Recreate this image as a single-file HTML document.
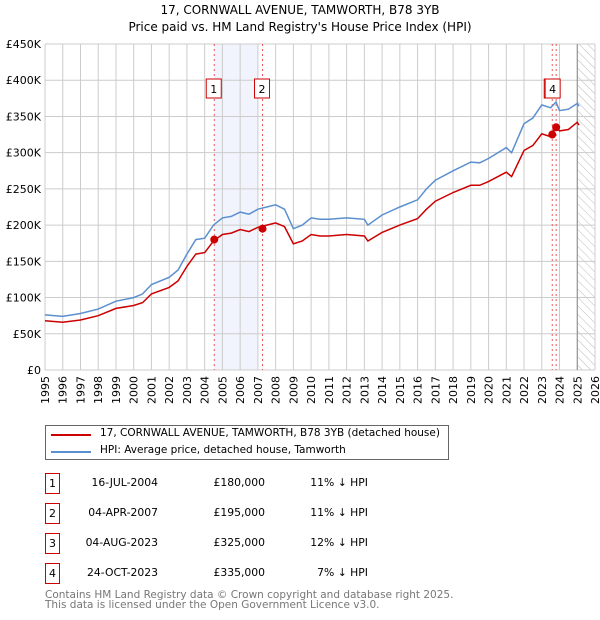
<!DOCTYPE html>
<html><head><meta charset="utf-8">
<style>
body{margin:0;width:600px;height:620px;background:#fff;font-family:"DejaVu Sans","Liberation Sans",sans-serif;overflow:hidden;position:relative}
.t{position:absolute;white-space:nowrap}
.box{position:absolute;border:1px solid #c00;font-size:11px;text-align:center;line-height:19px;box-sizing:border-box;width:15px;height:21px}
.row{font-size:10.8px;color:#000}
</style></head><body>
<div class="t" style="left:0;width:600px;text-align:center;top:2px;font-size:12px;line-height:17px">17, CORNWALL AVENUE, TAMWORTH, B78 3YB<br>Price paid vs. HM Land Registry's House Price Index (HPI)</div>
<svg id="chart" width="600" height="420" style="position:absolute;left:0;top:0" font-family="DejaVu Sans, Liberation Sans, sans-serif" font-size="11">
<defs><pattern id="hatch" width="6" height="6" patternUnits="userSpaceOnUse" patternTransform="rotate(-45)"><line x1="0" y1="0" x2="0" y2="6" stroke="#bbb" stroke-width="1"/></pattern></defs>
<g id="grid"></g><g id="marks"></g><g id="axes"></g>
</svg>
<div style="position:absolute;left:45px;top:425px;width:404px;height:35px;border:1px solid #666;box-sizing:border-box">
<div style="position:absolute;left:5px;top:8px;width:40px;height:2px;background:#c00"></div>
<div class="t" style="left:54px;top:1px;font-size:10.5px">17, CORNWALL AVENUE, TAMWORTH, B78 3YB (detached house)</div>
<div style="position:absolute;left:5px;top:25px;width:40px;height:2px;background:#5b8fd0"></div>
<div class="t" style="left:54px;top:18px;font-size:10.5px">HPI: Average price, detached house, Tamworth</div>
</div>
<div id="table"></div>
<div class="t" style="left:45px;top:590px;font-size:10.5px;color:#777;line-height:10px">Contains HM Land Registry data © Crown copyright and database right 2025.<br>This data is licensed under the Open Government Licence v3.0.</div>
<script>
const hpiYears=[1995,1996,1997,1998,1999,2000,2000.5,2001,2002,2002.5,2003,2003.5,2004,2004.5,2005,2005.5,2006,2006.5,2007,2007.5,2008,2008.5,2009,2009.5,2010,2010.5,2011,2012,2013,2013.2,2014,2015,2016,2016.5,2017,2018,2019,2019.5,2020,2021,2021.3,2022,2022.5,2023,2023.5,2023.8,2024,2024.5,2025,2025.1];
const hpiValues=[76000,74000,78000,84000,95000,100000,105000,118000,128000,138000,160000,180000,182000,200000,210000,212000,218000,215000,222000,225000,228000,222000,195000,200000,210000,208000,208000,210000,208000,200000,214000,225000,235000,250000,262000,275000,287000,286000,292000,307000,300000,340000,348000,366000,362000,370000,358000,360000,368000,364000];
const priceValues=[68000,66000,69000,75000,85000,89000,93000,105000,114000,123000,143000,160000,162000,178000,187000,189000,194000,191000,197000,200000,203000,198000,174000,178000,187000,185000,185000,187000,185000,178000,190000,200000,209000,222000,233000,245000,255000,255000,260000,273000,267000,303000,310000,326000,322000,336000,330000,332000,342000,338000];
const saleYears=[2004.54,2007.26,2023.59,2023.81];
const salePrices=[180000,195000,325000,335000];
const saleLabels=["1","2","3","4"];
const saleDates=["16-JUL-2004","04-APR-2007","04-AUG-2023","24-OCT-2023"];
const salePriceText=["£180,000","£195,000","£325,000","£335,000"];
const saleDiff=["11% ↓ HPI","11% ↓ HPI","12% ↓ HPI","7% ↓ HPI"];
const yTicks=[0,50000,100000,150000,200000,250000,300000,350000,400000,450000];
const yTickLabels=["£0","£50K","£100K","£150K","£200K","£250K","£300K","£350K","£400K","£450K"];
const xMin=1995,xMax=2026,X0=45,X1=595,Y0=370,Y1=44;
const xs=v=>X0+(v-xMin)/(xMax-xMin)*(X1-X0);
const ys=v=>Y0-(v/450000)*(Y0-Y1);
const NS="http://www.w3.org/2000/svg";
function mk(par,tag,attrs){const e=document.createElementNS(NS,tag);for(const k in attrs)e.setAttribute(k,attrs[k]);document.getElementById(par).appendChild(e);return e;}
let r=mk('grid','rect',{x:xs(2004.54),y:Y1,width:xs(2007.0)-xs(2004.54),height:Y0-Y1,fill:'#f1f4fc'});


r=mk('grid','rect',{x:xs(2025.0),y:Y1,width:X1-xs(2025.0),height:Y0-Y1,fill:'url(#hatch)'});


for(let i=0;i<yTicks.length;i++){
 let l=mk('grid','line',{x1:X0,x2:X1,y1:ys(yTicks[i]),y2:ys(yTicks[i]),stroke:'#ccc'});
 
 
 let t=mk('axes','text',{x:X0-4,y:ys(yTicks[i])+4,'text-anchor':'end',fill:'#000'});
 t.textContent=yTickLabels[i];
 
 
}
for(let yr=1995;yr<=2026;yr++){
 let l=mk('grid','line',{x1:xs(yr),x2:xs(yr),y1:Y1,y2:Y0,stroke:'#ccc'});
 
 
 let t=mk('axes','text',{transform:`translate(${xs(yr)+4},${Y0+6}) rotate(-90)`,'text-anchor':'end',fill:'#000'});
 t.textContent=yr;
 
 
}
let vl=mk('grid','line',{x1:xs(2025.0),x2:xs(2025.0),y1:Y1,y2:Y0,stroke:'#888','stroke-width':1});


for(let i=0;i<saleYears.length;i++){
 let l=mk('marks','line',{x1:xs(saleYears[i]),x2:xs(saleYears[i]),y1:Y1,y2:Y0,stroke:'#e55','stroke-dasharray':'2,3'});
 
 
}
function path(vals){return hpiYears.map((y,i)=>(i?'L':'M')+xs(y).toFixed(1)+','+ys(vals[i]).toFixed(1)).join(' ');}
let p=mk('marks','path',{d:path(hpiValues),fill:'none',stroke:'#5b8fd0','stroke-width':1.5});


p=mk('marks','path',{d:path(priceValues),fill:'none',stroke:'#c00','stroke-width':1.5});


for(let i=0;i<saleYears.length;i++){
 let c=mk('marks','circle',{cx:xs(saleYears[i]),cy:ys(salePrices[i]),r:4,fill:'#c00'});
 
 
 let bx=xs(saleYears[i])-(i==3?3:0);
 let b=mk('marks','rect',{x:bx-8,y:79,width:15,height:19,fill:'#fff',stroke:'#c00'});
 
 
 let t=mk('marks','text',{x:bx-0.5,y:93,'text-anchor':'middle',fill:'#000'});
 t.textContent=(i==2?'':saleLabels[i]);
 
 
}
const tb=document.getElementById('table');
for(let i=0;i<saleLabels.length;i++){
 const top=473+i*30;
 tb.insertAdjacentHTML('beforeend',
 `<div class="box" style="left:45px;top:${top}px">${saleLabels[i]}</div>`+
 `<div class="t row" style="right:${600-158}px;top:${top+3}px">${saleDates[i]}</div>`+
 `<div class="t row" style="right:${600-265}px;top:${top+3}px">${salePriceText[i]}</div>`+
 `<div class="t row" style="right:${600-368}px;top:${top+3}px">${saleDiff[i]}</div>`);
}
</script>
</body></html>
